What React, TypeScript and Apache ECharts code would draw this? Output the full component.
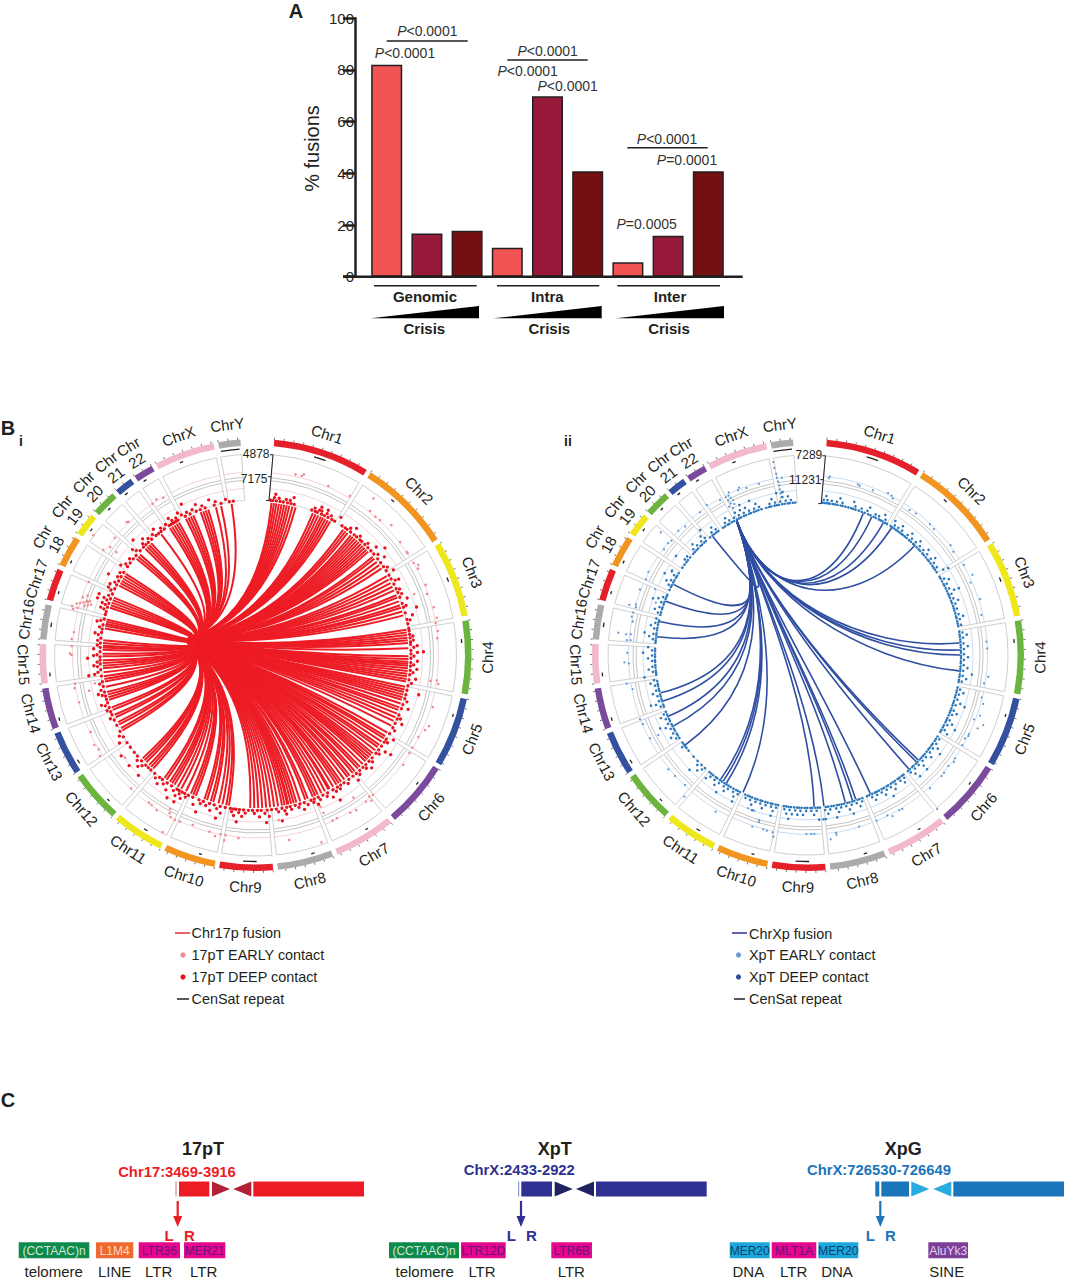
import React, { useEffect, useRef } from "react";
import * as echarts from "echarts";

// ---------- Panel A data ----------
const barCategories = ["G1", "G2", "G3", "Ia1", "Ia2", "Ia3", "Ie1", "Ie2", "Ie3"];
const barValues = [82, 16.7, 17.8, 11.2, 69.8, 40.8, 5.6, 15.8, 40.8];
const stageColors = ["#F15455", "#971A3B", "#741012"];

// ---------- Panel B data ----------
const chromNames = ["Chr1","Chr2","Chr3","Chr4","Chr5","Chr6","Chr7","Chr8","Chr9","Chr10","Chr11","Chr12","Chr13","Chr14","Chr15","Chr16","Chr17","Chr18","Chr19","Chr20","Chr21","Chr22","ChrX","ChrY"];
const chromLengths = [249,242,198,190,181,171,159,145,138,134,135,133,114,107,102,90,83,80,59,64,47,51,156,57];
const chromColors = ["#E5202A","#F29420","#EEE71C","#6BB440","#34519F","#7A4A9C","#F2B8CB","#ABABAB"];
const cenStart = [110,85,88,47,46,58,57,43,42,39,51,33,16,15,17,34,22,15,24,26,10,12,58,3];
const cenLength = [32,10,12,10,8,8,8,9,36,8,11,8,11,9,10,12,8,8,8,8,9,9,9,50];

const linksI = [6,6.9,7.8,8.8,9.8,10.8,11.8,12.8,14,15.2,22,23.1,24.2,25.3,26.2,27.2,28.2,29.2,
35,36,37,38.5,39.5,40.5,41.5,42.5,43.5,44.5,45.5,46.5,47.5,50,51,52.5,54,55.5,59,60.5,62,63.5,65,67,68,69.5,71,72,73.5,75,
80.5,81.5,82.5,83.5,84.5,85.5,87.5,90.5,91.5,92.5,93.3,94,95,96,97,98,99,100,
102,103,104,105,106,107,108.5,110,111,112.5,114,115.5,117.5,120.5,122,123,124.5,126,127,128.5,130,131,132,133,134,135.5,137,138,139.5,140.5,142,143,144.5,
146,147,148,149.5,151,151.5,153,154.5,156,157,158,160,161,163,164.5,165.5,166.5,167.5,168,169,170,171.5,173,174.5,176,177.5,179,180.5,182,
190,191,192.5,194,196,197,198.5,199.5,203,204,205,207,209,210.5,212,213,214,215.5,216.5,222,223,224,225.5,226.5,227.5,
240.5,241.5,243,244,246,247,249,250,253,254,255,256,258,260,261,262,263.5,265,266,267,268,269.5,270.5,272,272.8,273.5,274.5,275.5,
280,281,281.8,282.6,283.4,288,289,290,291,292,297,298,299,300,301,302,309,310,311,314,315,316,317,322,326,327,328,329,330,333,334,335,336,339,340,341,342,345,347,351];

const earlyI = [[185,12.5],[185,14.5],[187,15],[184,23.3],[185,30.7],[196,37],[184,38.5],[183,40.9],[183.6,42.7],[188,46.3],[183.5,52],[183,55.7],[183,56.2],
[183,59.8],[186,61],[184,62],[184,67.6],[182,70.4],[170,69],[184.6,75],[185,78.4],[183,80],[184,82.5],[182.6,84.7],[177,98.4],[183,98],[185,99],
[184.7,106.4],[185.4,113.9],[187.5,112.3],[182.3,116.7],[182,120.6],[182.5,122.5],[184,126.6],[182.5,140],[181.7,141.2],[186,141.5],[183.5,143],[185,147],[173,145.5],[184,149],
[182.4,153.5],[182.7,155],[172,156.7],[165,156.8],[198.7,160.6],[188,169.7],[166.6,172],[184,185.3],[188,189.6],[182.5,189.4],[182.7,191],[185.7,192.6],[182.6,194.6],
[181,200.3],[183,204.4],[183.6,206],[183,207.6],[180,208.5],[176,209],[184,212.5],[182.5,214.7],[182,215.8],[200,207.7],[182.5,223],[166,231.8],[185.4,237],[183,239],[184.6,240.8],[182,245],
[182.6,255],[184,259.6],[182.7,261],[170,257.9],[163,260],[184,270],[185.5,270.5],[184.5,275],[184,272.8],[183,277.2],
[190,285],[186,286],[183,286.5],[180,287],[177,287.8],[188,284.2],[184,284.8],[178,286],[175,286.5],[172,287],[174,288],[182,288.5],[178,289.5],[176,287.5],[182,293.7],
[201.7,306.5],[185,304.6],[181,306.6],[183,309.8],[173,306.5],[162,296.3],[185,315.9],[184,316.4],[183,325.7],[184.5,327.5],[182.5,329.6]];

const deepI155 = [5.6,6.4,7.7,9.1,10.3,11.9,13.2,14.4,21.2,22.6,23.4,25.1,26.3,27.8,29.4,30.6,33.8,35.2,36.1,37.7,39.4,40.6,42.2,43.1,44.7,46.3,47.9,49.5,51.8,53.6,55.4,57.2,59.1,60.7,62.9,
64.8,66.3,68.2,70.6,72.1,74.3,76.8,78.4,80.2,81.1,82.4,83.7,85.2,86.1,88.3,89.6,91.2,92.8,94.1,95.7,97.3,99.2,101.4,103.1,104.8,106.3,108.6,110.2,112.7,114.3,116.1,117.9,
120.4,122.8,124.1,125.9,127.6,129.2,131.4,133.1,134.8,136.3,137.9,139.6,141.2,143.1,145.3,146.8,148.2,150.1,152.4,154.3,156.2,157.8,159.1,161.7,163.4,165.2,167.1,168.4,170.2,172.3,
174.1,175.7,177.9,179.3,181.1,182.6,184.4,185.9,187.2,188.1,189.3,191.2,193.1,195.4,197.2,199.6,201.3,203.8,205.6,207.1,208.2,209.4,210.3,212.7,214.6,216.8,218.1,220.4,222.3,223.6,224.9,227.1,229.4,231.2,233.6,
235.7,238.2,240.6,243.1,245.3,247.4,248.6,250.2,252.1,253.4,254.7,256.2,258.3,260.1,262.2,264.6,266.7,268.1,269.3,271.2,272.8,274.4,276.2,278.3,279.6,281.2,283.4,285.1,286.2,287.9,289.4,291.2,293.1,
295.2,296.8,298.4,300.2,302.1,304.6,306.3,308.2,309.8,312.1,313.9,315.2,316.4,318.1,320.2,321.4,322.6,324.1,326.3,327.1,327.8,328.6,329.4,330.1,333.2,335.1,337.6,339.2,341.1,344.6,347.2,350.3,351.8];
const deepI158 = [6.9,8.6,11.2,12.7,22.1,23.9,24.8,26.9,28.6,36.9,41.4,45.2,50.6,56.3,61.8,65.4,67.2,71.8,77.2,83.1,84.6,87.2,90.4,93.6,96.4,100.3,107.2,113.8,118.6,123.6,128.7,132.4,135.6,138.8,144.2,147.6,149.3,
153.1,155.8,158.4,160.6,164.1,166.8,169.3,171.6,176.6,180.4,183.7,186.1,188.7,194.2,198.3,200.4,206.3,208.8,211.2,215.6,219.2,225.7,228.3,239.2,246.3,249.4,251.3,255.2,257.1,259.4,263.7,265.8,267.4,270.1,273.6,275.3,277.4,280.2,282.6,
286.9,288.6,290.3,292.1,294.2,297.4,299.6,301.3,305.1,307.4,311.2,314.6,317.3,319.4,323.2,325.4,328.1,329.8,332.1,334.2,336.4,340.2,345.3,349.1];
const deepI162 = [7.2,13.8,24.2,26.7,31.8,38.6,48.2,52.7,58.3,62.1,69.4,75.6,86.7,89.1,92.2,95.1,98.6,109.6,115.4,121.6,126.8,134.2,140.6,151.3,157.1,162.4,168.9,175.1,178.6,184.9,187.8,192.6,196.4,202.7,207.7,209.8,213.6,217.4,226.6,237.1,
251.9,255.9,263.1,266.2,269.8,272.2,277.9,282.1,287.2,288.9,290.8,294.8,296.1,303.7,310.6,315.8,320.9,327.4,331.2,338.2,343.2];
const deepI168 = [50.4,73.4,88.9,103.7,126.4,149.7,170.8,176.2,186.6,193.8,200.9,209.1,211.8,224.2,228.8,233.1,262.9,268.9,289.9,291.4,298.9,313.2,333.8];

const linksII = [21.3,24.8,29.7,33.3,44.3,85.5,88.1,90,96,133.6,134.6,138.5,155.8,161.7,163,165.8,174,177.7,205.3,212.5,213.9,215.1,233.8,242.2,246.3,252.4,255.6,276.9,282.7,290.7,297.7,321.2];

const earlyII = [[180,7],[178,6.7],[177.7,16.3],[177,17],[177,21.5],[180.7,26.3],[180,27.7],[178,28.4],[177,35],[178,37.3],[178.8,43],[178,45],[180,52.4],[178.3,54.6],[180,60],[183,64],[178,66],[181,72],[178,77],
[179,85.7],[179.4,87.9],[181.6,96.9],[178.3,99.1],[178.8,103.7],[182,105.6],[182.4,109.4],[178,111.2],[188.8,111.8],[184.8,113.4],[179.3,116.1],[179.6,116.8],[177.7,118],[178.6,120.3],[179.7,125.1],[180.8,126.2],[178.9,128.3],[179.9,130.9],[180.3,132.2],
[180.7,137.5],[201,140],[180.6,148.5],[180,149.5],[182,152.3],[179,153.7],[179.4,157.5],[179,163.4],[180,171],[182,171],[185.7,173],[179,178],[179,179],[179,180.5],[185,190.8],[180.8,191.3],[180.5,193.2],[180,194.4],[174,196.4],[172,196.5],[180.5,198],[164.8,199.1],[164.5,201.3],[181.9,210.5],
[188,221.1],[179,223.4],[179.8,227.7],[180.5,230.7],[169.7,241.9],[178.6,242.2],[179,247.3],[179.8,249.1],[178.6,259],[183.6,261],[179.2,267.3],[183.8,267.7],[180.7,270.7],[181.7,274.7],[178,274.8],[183,276.5],[191,276.7],[178.5,276.7],[178.4,280.8],[180.4,282.3],[180,283.7],[178.5,285.5],[185.6,285.7],[179.3,286.4],[161,289],[180.4,291.3],[166.6,293.3],[178.8,295],[180,297.5],[159.7,301.4],[178.6,306.3],[179,308.6],[191.7,309.8],[178,310],[179.6,313.8],[177.7,316.3],[179,322.9],[181,326],[178,330.4],[168,332],
[181,334],[178,333.5],[175,333.8],[172,334.2],[170,333],[168,334],[165,333],[178,332.5],[174,332.7],[179,337],[181,337.6],[178,339.8],[178,344],[196,349.8],[190,349.8],[184,350],[180,350],[176,350.2],[172,350.4],[168,350.4],[164,350.5],[160,350.6],[179,351.6]];

const deepII153 = [5.4,6.1,6.9,7.6,8.3,9.4,10.2,11.1,12.3,13.1,14.2,15.3,16.4,17.2,18.1,19.4,20.6,21.7,23.2,24.1,25.4,26.3,27.6,28.4,29.2,30.3,31.1,32.7,33.4,34.2,35.1,35.9,36.8,37.6,38.3,39.2,40.1,41.3,42.2,43.4,44.1,45.2,46.3,47.1,48.4,49.2,50.3,51.4,52.1,53.2,54.4,55.3,56.1,57.2,
59.3,60.1,61.2,62.4,63.1,64.2,65.3,66.4,67.2,68.1,69.3,70.2,71.4,72.3,73.1,74.2,75.4,76.1,77.3,78.2,79.1,81.2,82.3,83.1,84.2,85.1,86.3,87.2,88.4,89.1,90.3,91.2,92.4,93.1,94.3,95.2,96.1,97.3,98.2,99.4,100.1,
102.3,103.4,104.2,105.3,106.1,107.4,108.3,109.2,110.4,111.3,112.1,113.2,114.4,115.3,116.1,117.4,118.2,119.3,120.1,122.2,123.3,124.1,125.4,126.2,127.3,128.1,129.2,130.4,131.3,132.2,133.1,134.3,135.2,136.4,137.1,138.3,139.2,
141.4,142.2,143.3,144.1,145.4,146.3,147.2,148.4,149.1,150.3,151.2,152.4,153.3,154.1,155.2,156.4,157.3,159.2,160.3,161.1,162.4,163.2,164.3,165.1,166.4,167.3,168.2,169.1,170.3,171.2,172.4,173.3,175.5,176.3,177.2,178.4,179.1,180.3,181.2,182.4,183.3,184.1,185.2,186.4,187.3,188.2,189.1,
191.3,192.2,193.4,194.1,195.3,196.2,197.4,198.1,199.3,200.2,201.4,202.3,203.1,204.2,206.4,207.3,208.1,209.2,210.4,211.3,212.2,213.1,214.3,215.2,216.4,217.1,218.3,219.2,220.1,222.3,224.1,226.2,228.4,231.3,232.6,233.4,234.2,235.1,
237.2,238.3,239.1,240.4,241.2,242.3,243.1,244.4,245.2,246.3,247.1,248.2,250.3,251.1,252.4,253.2,254.3,255.1,256.4,257.2,258.3,259.1,260.2,262.6,263.4,264.1,265.3,266.2,267.4,268.1,269.3,270.2,271.4,272.3,
274.6,275.3,276.2,277.4,278.1,279.3,280.2,281.4,282.3,283.1,285.3,286.2,287.4,288.1,289.3,290.2,291.4,292.3,293.1,295.2,296.4,297.1,298.3,299.2,300.4,301.1,302.3,304.8,306.2,307.4,308.3,309.6,311.4,
312.3,313.2,314.1,315.4,316.2,317.3,318.1,320.2,321.4,322.3,323.2,324.1,326.3,327.2,328.4,329.1,330.2,331.1,332.3,333.2,334.1,335.3,336.2,337.4,338.1,339.3,340.2,341.1,342.3,344.2,345.3,346.1,347.4,348.2,349.1,350.3,351.2,352.4,353.1,354.3,355.2];
const deepII156 = [5.8,7.2,8.8,10.7,12.8,17.7,20.1,22.4,25.7,27.1,29.8,33.8,35.4,37.1,39.7,41.8,43.7,45.8,47.7,49.8,51.9,53.8,55.7,60.7,62.8,64.7,66.9,68.7,70.8,72.7,74.8,76.7,78.8,81.7,83.6,85.7,87.8,89.7,91.8,93.7,95.8,97.7,99.8,
102.8,104.7,106.6,108.8,110.9,112.6,114.8,116.7,118.8,122.7,124.7,126.8,128.6,130.9,132.7,134.8,136.7,138.8,141.9,143.7,145.8,147.9,149.7,151.8,153.7,155.7,159.7,161.8,163.7,165.8,167.7,169.6,171.8,173.7,176.8,178.8,180.7,182.8,184.7,186.8,188.7,
191.8,193.7,195.8,197.8,199.7,201.8,203.6,206.8,208.7,210.9,212.7,214.8,216.8,218.7,222.8,225.2,233.8,237.7,239.8,241.7,243.8,245.7,247.6,250.7,252.8,254.7,256.8,258.7,260.7,263.8,265.7,267.8,269.8,271.7,
275.8,277.8,279.8,281.9,283.6,285.8,287.9,289.8,291.8,296.8,298.7,300.8,307.8,309.2,312.7,314.7,316.8,318.6,321.8,323.7,327.8,329.7,331.7,333.7,335.7,337.8,339.8,341.7,345.7,347.8,349.7,351.8,353.7];
const deepII160 = [6.6,11.7,16.8,22.9,28.9,33.1,36.4,40.7,44.7,48.9,52.7,57.7,61.7,65.9,69.8,75.8,82.7,86.8,90.8,94.7,98.7,103.8,107.8,111.7,115.8,119.7,125.8,129.7,133.7,137.8,142.7,146.8,150.8,154.8,160.8,164.8,168.8,172.7,177.8,181.8,183.8,185.8,187.8,
192.8,196.8,200.8,207.8,211.8,215.8,219.7,223.8,238.8,242.8,246.8,251.8,255.8,259.7,264.8,268.8,272.8,276.8,280.8,286.8,290.8,297.8,301.8,313.8,317.8,322.8,328.8,332.8,334.8,336.8,340.8,346.8,350.8,352.8];
const deepII165 = [58.2,66.1,96.8,108.4,117.1,126.9,133.8,137.2,148.7,163.9,169.8,173.8,174.6,176.1,186.9,193.1,199.8,207.4,213.8,225.9,243.6,252.1,262.2,270.8,277.9,290.1,299.7,306.9,319.2,335.4,339.1,351.1,348.9];

// ---------- Panel C data ----------
const panelCTitles = ["17pT", "XpT", "XpG"];
const panelCLoci = ["Chr17:3469-3916", "ChrX:2433-2922", "ChrX:726530-726649"];

const FF = "'Liberation Sans', Arial, sans-serif";
const INK = "#231F20";
const DEG = Math.PI / 180;
const OUTER = 240;

const chromStarts: number[] = [];
const DEG_PER_MB = 0.10438;
{
  let a = 5;
  chromLengths.forEach((l) => {
    chromStarts.push(a);
    a += l * DEG_PER_MB + 1.26;
  });
}
const chromRanges = chromLengths.map((l, i) => [chromStarts[i], chromStarts[i] + l * DEG_PER_MB]);

function T(text: string, x: number, y: number, o: any = {}) {
  const { rotation, ...style } = o;
  return {
    type: "text", x, y, rotation: rotation || 0, silent: true, z: 20,
    style: { text, fontFamily: FF, fontSize: 14, fill: INK, align: "center", verticalAlign: "middle", ...style },
  };
}
function P(text: string, x: number, y: number) {
  return T(text, x, y, { fontSize: 14, fill: "#333", rich: { i: { fontStyle: "italic", fontSize: 14, fontFamily: FF, fill: "#333" } } });
}
function L(x1: number, y1: number, x2: number, y2: number, stroke = INK, lineWidth = 1.5) {
  return { type: "line", silent: true, z: 20, shape: { x1, y1, x2, y2 }, style: { stroke, lineWidth } };
}
function R(x: number, y: number, w: number, h: number, fill: string) {
  return { type: "rect", silent: true, z: 20, shape: { x, y, width: w, height: h }, style: { fill } };
}
function Poly(points: number[][], fill: string) {
  return { type: "polygon", silent: true, z: 20, shape: { points }, style: { fill } };
}

function panelASeries() {
  return {
    type: "bar",
    xAxisIndex: 0, yAxisIndex: 0,
    barWidth: 31,
    silent: true,
    data: barValues.map((v, i) => ({ value: v, itemStyle: { color: stageColors[i % 3], borderColor: INK, borderWidth: 1.5 } })),
  };
}

function scatterRow(polarIndex: number, data: number[][], color: string, size: number) {
  return { type: "scatter", coordinateSystem: "polar", polarIndex, silent: true, symbolSize: size, itemStyle: { color, opacity: 1 }, data, z: 6 };
}
const band = (r: number, list: number[]) => list.map((t) => [r, t]);

function circosSeries(polarIndex: number, cfg: any) {
  const trackSeries = {
    type: "custom", coordinateSystem: "polar", polarIndex, silent: true, z: 1,
    data: chromRanges.map((c, i) => [cfg.rOuter, c[0], c[1], i]),
    renderItem: (params: any, api: any) => {
      const cs = params.coordSys;
      const a0 = (api.value(1) - 90) * DEG;
      const a1 = (api.value(2) - 90) * DEG;
      const arc = (r: number, stroke: string, lineWidth: number) => ({
        type: "arc",
        shape: { cx: cs.cx, cy: cs.cy, r, startAngle: a0, endAngle: a1, clockwise: true },
        style: { stroke, lineWidth, fill: "none" },
      });
      const radial = (t: number) => {
        const p = api.coord([cfg.rInner, t]);
        const q = api.coord([cfg.rOuter, t]);
        return { type: "line", shape: { x1: p[0], y1: p[1], x2: q[0], y2: q[1] }, style: { stroke: "#CFCFCF", lineWidth: 1 } };
      };
      return {
        type: "group",
        children: [
          arc(cfg.rOuter, "#CFCFCF", 1),
          arc(cfg.rMidA, "#C4C4C4", 1),
          arc(cfg.rMidB, "#C4C4C4", 1),
          arc(cfg.rInner, "#D6D6D6", 1),
          arc(cfg.tintA, cfg.tint, 0.8),
          arc(cfg.tintB, cfg.tint, 0.8),
          radial(api.value(1)),
          radial(api.value(2)),
        ],
      };
    },
  };
  const ideogram = {
    type: "custom", coordinateSystem: "polar", polarIndex, silent: true, z: 2,
    data: chromRanges.map((c, i) => [216, c[0], c[1], i]),
    renderItem: (params: any, api: any) => {
      const cs = params.coordSys;
      return {
        type: "sector",
        shape: { cx: cs.cx, cy: cs.cy, r: 216, r0: 209.5, startAngle: (api.value(1) - 90) * DEG, endAngle: (api.value(2) - 90) * DEG, clockwise: true },
        style: { fill: chromColors[api.value(3) % 8] },
      };
    },
  };
  const tickData: number[][] = [];
  chromLengths.forEach((l, i) => {
    for (let m = 0; m <= l; m += 25) tickData.push([216, chromStarts[i] + m * DEG_PER_MB]);
  });
  const ticks = {
    type: "custom", coordinateSystem: "polar", polarIndex, silent: true, z: 3,
    data: tickData,
    renderItem: (_: any, api: any) => {
      const p = api.coord([216, api.value(1)]);
      const q = api.coord([218, api.value(1)]);
      return { type: "line", shape: { x1: p[0], y1: p[1], x2: q[0], y2: q[1] }, style: { stroke: "#333", lineWidth: 0.7 } };
    },
  };
  const censat = {
    type: "custom", coordinateSystem: "polar", polarIndex, silent: true, z: 3,
    data: chromStarts.map((s, i) => [206.5, s + cenStart[i] * DEG_PER_MB, s + (cenStart[i] + cenLength[i]) * DEG_PER_MB]),
    renderItem: (params: any, api: any) => {
      const cs = params.coordSys;
      return {
        type: "arc",
        shape: { cx: cs.cx, cy: cs.cy, r: api.value(0), startAngle: (api.value(1) - 90) * DEG, endAngle: (api.value(2) - 90) * DEG, clockwise: true },
        style: { stroke: "#222", lineWidth: 1.3, fill: "none" },
      };
    },
  };
  const axisLine = {
    type: "custom", coordinateSystem: "polar", polarIndex, silent: true, z: 7,
    data: [[cfg.rOuter, 5]],
    renderItem: (_: any, api: any) => {
      const a = api.coord([cfg.rOuter, 5]);
      const m = api.coord([cfg.rMidA + 1, 5]);
      const b = api.coord([cfg.rEnd, 5]);
      const st = { stroke: "#222", lineWidth: 1 };
      return {
        type: "group",
        children: [
          { type: "line", shape: { x1: a[0], y1: a[1], x2: b[0], y2: b[1] }, style: st },
          { type: "line", shape: { x1: a[0] - 3, y1: a[1], x2: a[0], y2: a[1] }, style: st },
          { type: "line", shape: { x1: m[0] - 3, y1: m[1], x2: m[0], y2: m[1] }, style: st },
          { type: "line", shape: { x1: b[0] - 3, y1: b[1], x2: b[0], y2: b[1] }, style: st },
        ],
      };
    },
  };
  const links = {
    type: "custom", coordinateSystem: "polar", polarIndex, silent: true, z: 5,
    data: cfg.links.map((t: number) => [cfg.rLink, t]),
    renderItem: (_: any, api: any) => {
      const t = api.value(1);
      const p0 = api.coord([cfg.rLink, t]);
      const c1 = api.coord([cfg.ctrlR, t]);
      const hub = api.coord(cfg.hub);
      if (cfg.source) {
        const src = api.coord(cfg.source);
        return {
          type: "bezierCurve",
          shape: { x1: p0[0], y1: p0[1], x2: src[0], y2: src[1], cpx1: c1[0], cpy1: c1[1], cpx2: hub[0], cpy2: hub[1] },
          style: { stroke: cfg.linkColor, lineWidth: cfg.linkWidth, fill: "none" },
        };
      }
      return {
        type: "bezierCurve",
        shape: { x1: p0[0], y1: p0[1], x2: hub[0], y2: hub[1], cpx1: c1[0], cpy1: c1[1] },
        style: { stroke: cfg.linkColor, lineWidth: cfg.linkWidth, fill: "none" },
      };
    },
  };
  return [trackSeries, ideogram, ticks, censat, links, axisLine];
}

function chromLabels(cx: number, cy: number) {
  return chromNames.map((name, i) => {
    const mid = (chromRanges[i][0] + chromRanges[i][1]) / 2;
    const two = i >= 17 && i <= 21;
    const r = two ? 236 : 232;
    const deg = mid < 80 ? mid : mid < 270 ? mid - 180 : mid - 360;
    const label = two ? "Chr\n" + name.slice(3) : name;
    return T(label, cx + r * Math.sin(mid * DEG), cy - r * Math.cos(mid * DEG), { fontSize: 15, rotation: -deg * DEG, lineHeight: 16 });
  });
}

function geneModel(x0: number, thinW: number, rectX: number, rectEnd1: number, t1: number[], t2: number[], longX: number, longEnd: number, arrowX: number, lx: number, rx: number, main: string, tri: string, thin: string) {
  const yT = 1181.5, h = 15;
  return [
    R(x0, yT, thinW, h, thin),
    R(rectX, yT, rectEnd1 - rectX, h, main),
    Poly([[t1[0], yT], [t1[1], yT + h / 2], [t1[0], yT + h]], tri),
    Poly([[t2[1], yT], [t2[0], yT + h / 2], [t2[1], yT + h]], tri),
    R(longX, yT, longEnd - longX, h, main),
    L(arrowX, 1201, arrowX, 1218, main, 2.2),
    Poly([[arrowX - 4.5, 1216], [arrowX + 4.5, 1216], [arrowX, 1227]], main),
    T("L", lx, 1235, { fontSize: 15, fontWeight: "bold", fill: main }),
    T("R", rx, 1235, { fontSize: 15, fontWeight: "bold", fill: main }),
  ];
}
function repeatBox(x0: number, x1: number, fill: string, text: string, fg: string, kindX: number | null, kind: string) {
  const out: any[] = [
    R(x0, 1242.3, x1 - x0, 16, fill),
    T(text, (x0 + x1) / 2, 1250.5, { fontSize: 12, fill: fg }),
  ];
  if (kindX !== null) out.push(T(kind, kindX, 1271, { fontSize: 15 }));
  return out;
}

function buildOption() {
  const G = "#0E8A4D", MAG = "#E6088A", ORG = "#EE6A31", CY = "#1CA8DD", PUR = "#7B3F98";
  const MAGT = "#6A1083", GT = "#CFE8CF", CYT = "#0F3F6E";
  const graphic: any[] = [
    T("A", 296, 10.5, { fontSize: 20, fontWeight: "bold" }),
    T("B", 8, 428, { fontSize: 20, fontWeight: "bold" }),
    T("C", 8, 1100, { fontSize: 20, fontWeight: "bold" }),
    T("i", 21, 441, { fontSize: 14, fontWeight: "bold" }),
    T("ii", 568, 441, { fontSize: 14, fontWeight: "bold" }),
    T("% fusions", 312, 148.5, { fontSize: 20, rotation: Math.PI / 2 }),
    L(343, 276.7, 742.7, 276.7, INK, 2.5),

    P("{i|P}<0.0001", 427.3, 31), L(386.7, 41, 467.7, 41, INK, 1.6), P("{i|P}<0.0001", 405, 53),
    P("{i|P}<0.0001", 547.7, 51), L(507.3, 60, 587.7, 60, INK, 1.6), P("{i|P}<0.0001", 527.7, 71), P("{i|P}<0.0001", 567.7, 86),
    P("{i|P}<0.0001", 667, 139), L(627.3, 147.7, 707.7, 147.7, INK, 1.6), P("{i|P}=0.0001", 687, 160), P("{i|P}=0.0005", 646.7, 224),

    L(374, 285.7, 476.7, 285.7, INK, 1.6), L(497, 285.7, 599.3, 285.7, INK, 1.6), L(617.3, 285.7, 720, 285.7, INK, 1.6),
    T("Genomic", 425, 296, { fontSize: 15, fontWeight: "bold" }),
    T("Intra", 547.3, 296, { fontSize: 15, fontWeight: "bold" }),
    T("Inter", 670, 296, { fontSize: 15, fontWeight: "bold" }),
    Poly([[370.7, 318.3], [479, 306], [479, 318.3]], "#000"),
    Poly([[493.3, 318.3], [601.7, 306], [601.7, 318.3]], "#000"),
    Poly([[616, 318.3], [724, 306], [724, 318.3]], "#000"),
    T("Crisis", 424.3, 328.5, { fontSize: 15, fontWeight: "bold" }),
    T("Crisis", 549.3, 328.5, { fontSize: 15, fontWeight: "bold" }),
    T("Crisis", 669, 328.5, { fontSize: 15, fontWeight: "bold" }),

    ...chromLabels(255.5, 655),
    ...chromLabels(808, 655),
    T("4878", 269.5, 454, { fontSize: 12, align: "right" }),
    T("7175", 267.5, 479, { fontSize: 12, align: "right" }),
    T("7289", 822.3, 455, { fontSize: 12, align: "right" }),
    T("11231", 821.5, 480, { fontSize: 12, align: "right" }),

    // legends
    L(175, 933, 190, 933, "#E5303A", 1.5), T("Chr17p fusion", 191.5, 933, { align: "left", fontSize: 14.4 }),
    { type: "circle", silent: true, z: 20, shape: { cx: 183, cy: 955, r: 2.6 }, style: { fill: "#F58A8E" } }, T("17pT EARLY contact", 191.5, 955, { align: "left", fontSize: 14.4 }),
    { type: "circle", silent: true, z: 20, shape: { cx: 183, cy: 977, r: 2.6 }, style: { fill: "#E8141F" } }, T("17pT DEEP contact", 191.5, 977, { align: "left", fontSize: 14.4 }),
    L(177, 999, 189, 999, INK, 1.5), T("CenSat repeat", 191.5, 999, { align: "left", fontSize: 14.4 }),

    L(732, 933, 747, 933, "#2A318F", 1.5), T("ChrXp fusion", 749, 934, { align: "left", fontSize: 14.4 }),
    { type: "circle", silent: true, z: 20, shape: { cx: 738.5, cy: 955, r: 2.6 }, style: { fill: "#6E9BD1" } }, T("XpT EARLY contact", 749, 955, { align: "left", fontSize: 14.4 }),
    { type: "circle", silent: true, z: 20, shape: { cx: 738.5, cy: 977, r: 2.6 }, style: { fill: "#2E4C9C" } }, T("XpT DEEP contact", 749, 977, { align: "left", fontSize: 14.4 }),
    L(734, 999, 745, 999, INK, 1.5), T("CenSat repeat", 749, 999, { align: "left", fontSize: 14.4 }),

    // panel C
    T(panelCTitles[0], 203, 1149, { fontSize: 18, fontWeight: "bold" }),
    T(panelCLoci[0], 177, 1172, { fontSize: 14.8, fontWeight: "bold", fill: "#ED1C24" }),
    ...geneModel(175.5, 1, 179, 209.3, [212, 230], [233.3, 251.3], 253.3, 364, 177.7, 169, 189.3, "#ED1C24", "#B32033", "#E07078"),
    ...repeatBox(18.7, 89.3, G, "(CCTAAC)n", GT, 53.7, "telomere"),
    ...repeatBox(96, 133.3, ORG, "L1M4", "#FFD9C2", 114.7, "LINE"),
    ...repeatBox(138.7, 180, MAG, "LTR36", MAGT, 158.7, "LTR"),
    ...repeatBox(184, 225.3, MAG, "MER21", MAGT, 203.7, "LTR"),

    T(panelCTitles[1], 554.7, 1149, { fontSize: 18, fontWeight: "bold" }),
    T(panelCLoci[1], 519.3, 1170, { fontSize: 14.8, fontWeight: "bold", fill: "#2E3192" }),
    ...geneModel(518.2, 1, 521.3, 552, [554.7, 572.7], [576, 594], 596, 706.7, 521, 511.3, 531.3, "#2E3192", "#1F2460", "#7A80C0"),
    ...repeatBox(389, 459, G, "(CCTAAC)n", GT, 424.7, "telomere"),
    ...repeatBox(461, 505.7, MAG, "LTR12D", MAGT, 482, "LTR"),
    ...repeatBox(551.3, 592, MAG, "LTR6B", MAGT, 571.3, "LTR"),

    T(panelCTitles[2], 903.3, 1149, { fontSize: 18, fontWeight: "bold" }),
    T(panelCLoci[2], 879, 1170, { fontSize: 14.8, fontWeight: "bold", fill: "#1B75BB" }),
    ...geneModel(875.3, 4, 881.3, 909, [911.3, 929.3], [933.3, 951.3], 953.3, 1064, 880.3, 870.3, 890.3, "#1B75BB", "#29ABE2", "#1B75BB"),
    ...repeatBox(729.7, 769.7, CY, "MER20", CYT, 748.3, "DNA"),
    ...repeatBox(771.7, 816.3, MAG, "MLT1A", MAGT, 793.7, "LTR"),
    ...repeatBox(818.3, 858.3, CY, "MER20", CYT, 837, "DNA"),
    ...repeatBox(928.3, 968, PUR, "AluYk3", "#E3CFEE", 946.7, "SINE"),
  ];

  const cfgI = { rOuter: 201, rMidA: 178, rMidB: 175, rInner: 155, tintA: 183, tintB: 167, tint: "#EFC9CD", rEnd: 155, links: linksI, rLink: 153, ctrlR: 35, hub: [72, 282], linkColor: "#ED1C24", linkWidth: 2 };
  const cfgII = { rOuter: 200, rMidA: 175, rMidB: 172, rInner: 153, tintA: 179.5, tintB: 165, tint: "#BBD3EA", rEnd: 152, links: linksII, rLink: 152, ctrlR: 50, hub: [75, 323], source: [152, 332], linkColor: "#2F4EA2", linkWidth: 1.6 };

  return {
    animation: false,
    backgroundColor: "#fff",
    tooltip: { show: false },
    grid: { left: 366.6, top: 18.3, width: 361.8, height: 258.4 },
    xAxis: { type: "category", data: barCategories, axisLine: { show: false }, axisTick: { show: false }, axisLabel: { show: false }, splitLine: { show: false } },
    yAxis: {
      type: "value", min: 0, max: 100, interval: 20, offset: 11.6,
      axisLine: { show: true, lineStyle: { color: INK, width: 2.5 } },
      axisTick: { show: true, length: 12, lineStyle: { color: INK, width: 2.5 } },
      axisLabel: { fontFamily: FF, fontSize: 15, color: INK, margin: 1 },
      splitLine: { show: false },
    },
    polar: [
      { center: [255.5, 655], radius: [0, OUTER] },
      { center: [808, 655], radius: [0, OUTER] },
    ],
    angleAxis: [
      { polarIndex: 0, type: "value", min: 0, max: 360, startAngle: 90, clockwise: true, show: false },
      { polarIndex: 1, type: "value", min: 0, max: 360, startAngle: 90, clockwise: true, show: false },
    ],
    radiusAxis: [
      { polarIndex: 0, type: "value", min: 0, max: OUTER, show: false },
      { polarIndex: 1, type: "value", min: 0, max: OUTER, show: false },
    ],
    graphic,
    series: [
      panelASeries(),
      ...circosSeries(0, cfgI),
      ...circosSeries(1, cfgII),
      scatterRow(0, earlyI, "#F28C90", 2.6),
      scatterRow(0, band(155.5, deepI155), "#E8141F", 3.3),
      scatterRow(0, band(158.5, deepI158), "#E8141F", 3.3),
      scatterRow(0, band(162, deepI162), "#E8141F", 3.3),
      scatterRow(0, band(168, deepI168), "#E8141F", 3.3),
      scatterRow(1, earlyII, "#5F97CF", 2.2),
      scatterRow(1, band(153, deepII153), "#2B77BC", 2.6),
      scatterRow(1, band(156, deepII156), "#2B77BC", 2.6),
      scatterRow(1, band(160, deepII160), "#2B77BC", 2.6),
      scatterRow(1, band(165, deepII165), "#2B77BC", 2.6),
    ],
  };
}

export default function App() {
  const ref = useRef<HTMLDivElement>(null);
  useEffect(() => {
    document.body.style.margin = "0";
    const chart = echarts.init(ref.current!, undefined, { renderer: "svg" });
    chart.setOption(buildOption() as any);
    return () => chart.dispose();
  }, []);
  return <div ref={ref} style={{ width: 1067, height: 1280 }} />;
}
